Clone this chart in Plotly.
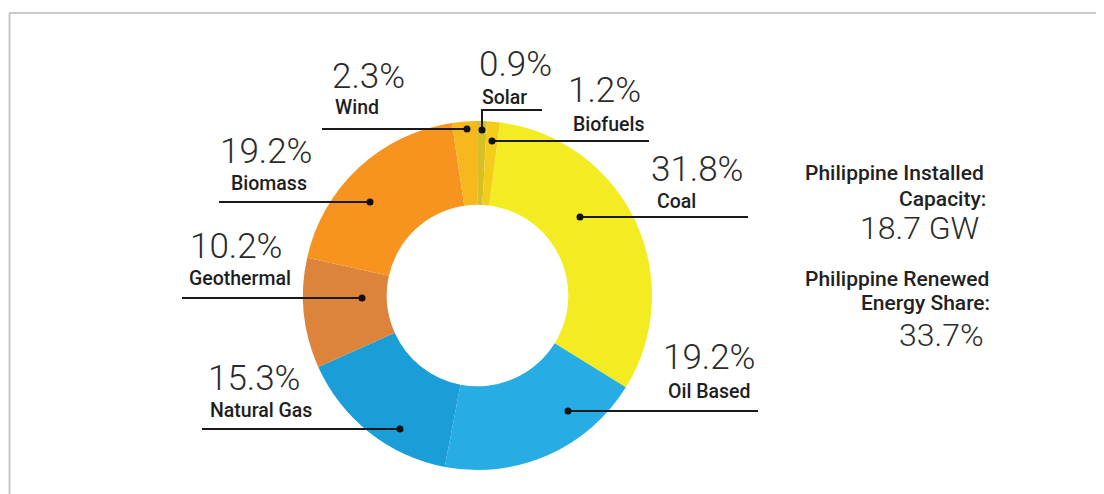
import plotly.graph_objects as go

# ---------------------------
# Data
# ---------------------------
sources = ["Coal", "Oil Based", "Natural Gas", "Geothermal", "Biomass", "Wind", "Solar", "Biofuels"]
shares = [31.8, 19.2, 15.3, 10.2, 19.2, 2.3, 0.9, 1.2]
pct_labels = ["31.8%", "19.2%", "15.3%", "10.2%", "19.2%", "2.3%", "0.9%", "1.2%"]
colors = ["#F4EC23", "#27ACE3", "#1B9ED8", "#DC843C", "#F7931F", "#F6B81E", "#D5C125", "#F4CD1B"]

capacity_label = "18.7 GW"
renewable_label = "33.7%"

# page body adds an 8px offset, so the figure is drawn 8px smaller
# and all positions below are given in screen pixels
OFF = 8
W, H = 1104 - OFF, 494 - OFF


def px(x):
    return (x - OFF) / W


def py(y):
    return 1 - (y - OFF) / H


# label layout in pixels: pct (left, cy), name (left, cy), leader line points (last = dot)
label_layout = {
    "Coal":        dict(pct=(649, 170), name=(655, 201), line=[(748, 217), (580, 217)]),
    "Oil Based":   dict(pct=(661, 357), name=(666, 391), line=[(758, 411), (568, 411)]),
    "Natural Gas": dict(pct=(206, 378), name=(208, 410), line=[(202, 429), (400, 429)]),
    "Geothermal":  dict(pct=(188, 246), name=(187, 278), line=[(182, 298), (362, 298)]),
    "Biomass":     dict(pct=(218, 151), name=(229, 183), line=[(219, 202), (370, 202)]),
    "Wind":        dict(pct=(330, 76), name=(333, 108), line=[(322, 129), (467, 129)]),
    "Solar":       dict(pct=(477, 64), name=(480, 97), line=[(542, 110), (482, 110), (482, 130)]),
    "Biofuels":    dict(pct=(566, 90), name=(571, 124), line=[(649, 141), (492, 141)]),
}

fig = go.Figure()

fig.add_trace(go.Pie(
    labels=sources,
    values=shares,
    hole=0.52,
    sort=False,
    direction="clockwise",
    rotation=7.4,
    marker=dict(colors=colors, line=dict(width=0)),
    textinfo="none",
    hoverinfo="label+percent",
    showlegend=False,
    domain=dict(x=[px(303), px(652)], y=[py(470), py(121)]),
))

annotations = []
shapes = []

for src, pct in zip(sources, pct_labels):
    lay = label_layout[src]
    annotations.append(dict(
        x=px(lay["pct"][0]), y=py(lay["pct"][1]), xref="paper", yref="paper",
        text=pct, showarrow=False, xanchor="left", yanchor="middle",
        font=dict(family="Roboto", size=35, color="#2b2b2b", weight=300),
    ))
    annotations.append(dict(
        x=px(lay["name"][0]), y=py(lay["name"][1]), xref="paper", yref="paper",
        text=src, showarrow=False, xanchor="left", yanchor="middle",
        font=dict(family="Roboto", size=19.5, color="#1e1e1e", weight=500),
    ))
    pts = lay["line"]
    path = "M " + " L ".join(f"{px(x)} {py(y)}" for x, y in pts)
    shapes.append(dict(type="path", path=path, xref="paper", yref="paper",
                       line=dict(color="#1a1a1a", width=2)))
    dx, dy = pts[-1]
    shapes.append(dict(type="circle", xref="paper", yref="paper",
                       x0=px(dx - 3.5), x1=px(dx + 3.5), y0=py(dy + 3.5), y1=py(dy - 3.5),
                       fillcolor="#111111", line=dict(width=0)))

# right-hand summary
side = [
    ("Philippine Installed", 986, 173, 21, 500),
    ("Capacity:", 988, 199, 21, 500),
    (capacity_label, 981, 228, 32, 300),
    ("Philippine Renewed", 991, 279, 21, 500),
    ("Energy Share:", 992, 303, 21, 500),
    (renewable_label, 986, 335, 32, 300),
]
for txt, x, y, size, weight in side:
    annotations.append(dict(
        x=px(x), y=py(y), xref="paper", yref="paper", text=txt, showarrow=False,
        xanchor="right", yanchor="middle",
        font=dict(family="Roboto", size=size, color="#222222" if weight > 400 else "#2b2b2b", weight=weight),
    ))

# card border (top and left edges)
shapes.append(dict(type="line", xref="paper", yref="paper", x0=px(9), x1=1, y0=py(13), y1=py(13),
                   line=dict(color="#c8c8c8", width=2)))
shapes.append(dict(type="line", xref="paper", yref="paper", x0=px(9.5), x1=px(9.5), y0=py(13), y1=0,
                   line=dict(color="#c8c8c8", width=2)))

fig.update_layout(
    width=W,
    height=H,
    margin=dict(l=0, r=0, t=0, b=0),
    paper_bgcolor="white",
    plot_bgcolor="white",
    annotations=annotations,
    shapes=shapes,
)

fig.write_html("out.html")
